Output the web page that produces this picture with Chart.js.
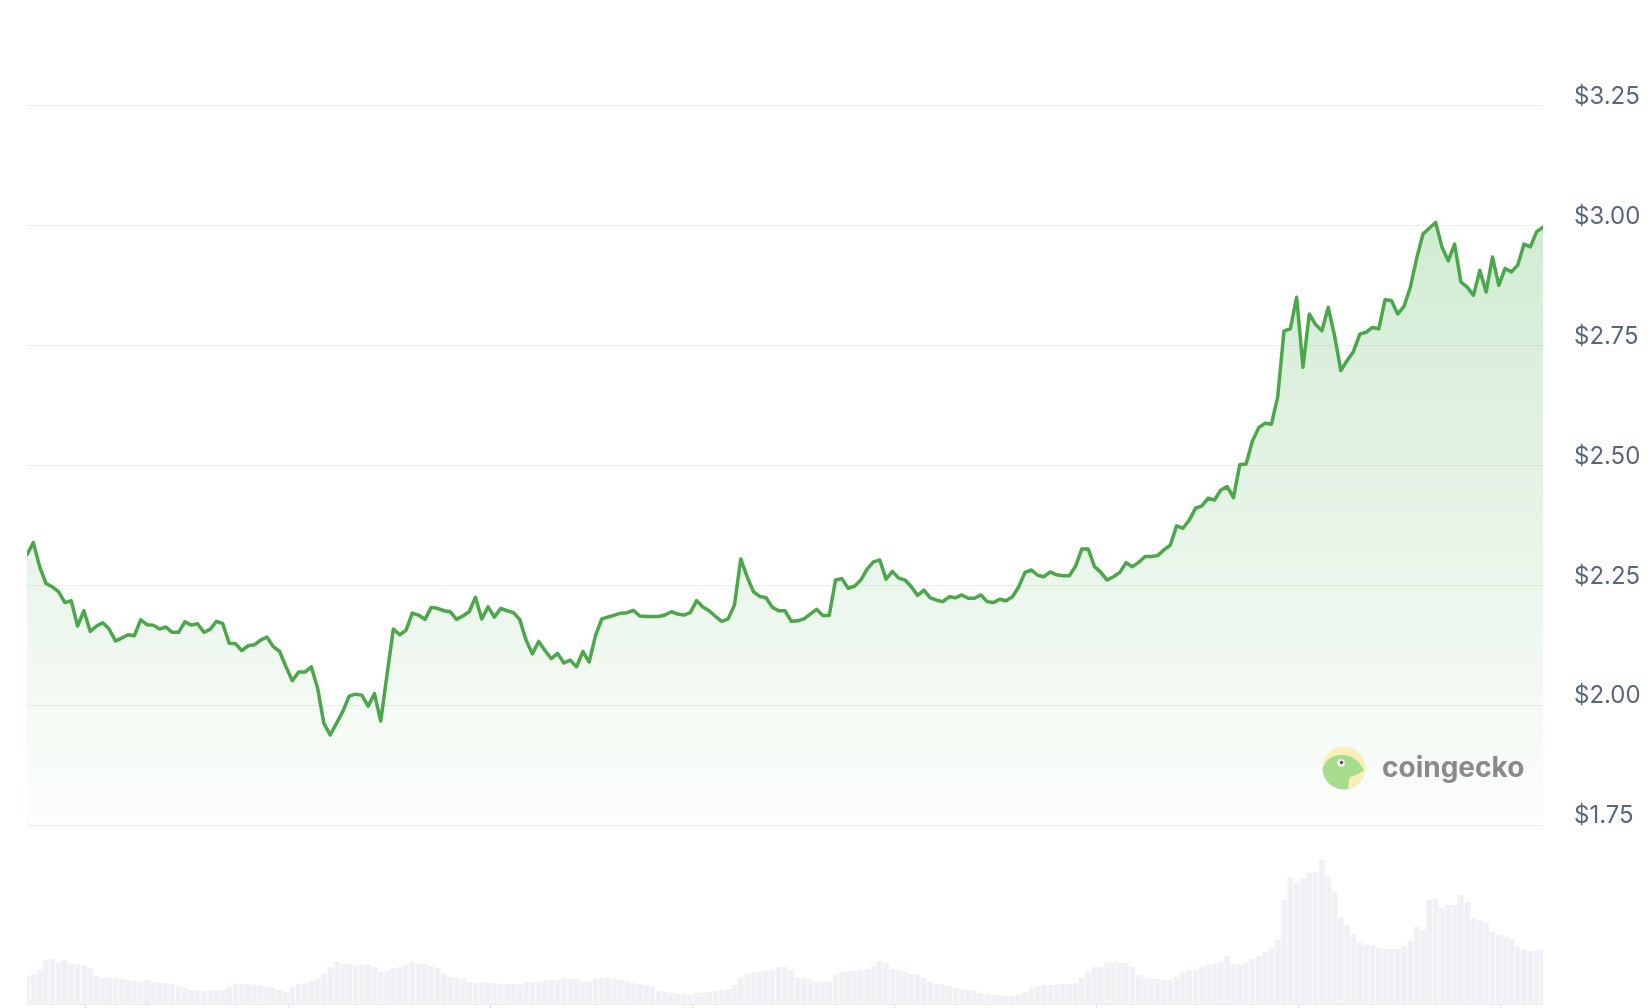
<!DOCTYPE html>
<html>
<head>
<meta charset="utf-8">
<style>
  html, body { margin: 0; padding: 0; background: #fff; }
  #wrap { width: 1650px; height: 1008px; position: relative; }
</style>
</head>
<body>
<div id="wrap"><canvas id="priceChart"></canvas></div>
<script src="https://cdn.jsdelivr.net/npm/chart.js"></script>
<script>
// 30 days of 3-hourly samples.
const prices = [
  2.314, 2.339, 2.289, 2.254, 2.247, 2.237, 2.214, 2.218, 2.165, 2.197,
  2.154, 2.165, 2.172, 2.159, 2.134, 2.140, 2.147, 2.145, 2.178, 2.168,
  2.167, 2.159, 2.163, 2.152, 2.152, 2.174, 2.167, 2.170, 2.152, 2.158,
  2.175, 2.170, 2.129, 2.128, 2.114, 2.124, 2.126, 2.136, 2.142, 2.122,
  2.112, 2.080, 2.051, 2.069, 2.069, 2.080, 2.036, 1.962, 1.938, 1.962,
  1.987, 2.019, 2.023, 2.021, 1.998, 2.024, 1.967, 2.064, 2.159, 2.147,
  2.156, 2.192, 2.188, 2.179, 2.204, 2.202, 2.197, 2.195, 2.179, 2.186,
  2.195, 2.225, 2.180, 2.205, 2.184, 2.202, 2.197, 2.193, 2.179, 2.136,
  2.107, 2.133, 2.114, 2.097, 2.108, 2.088, 2.094, 2.080, 2.112, 2.090,
  2.145, 2.180, 2.184, 2.188, 2.192, 2.193, 2.198, 2.186, 2.185, 2.185,
  2.185, 2.188, 2.195, 2.190, 2.188, 2.193, 2.218, 2.205, 2.197, 2.185,
  2.175, 2.180, 2.209, 2.305, 2.268, 2.237, 2.227, 2.224, 2.204, 2.197,
  2.197, 2.175, 2.176, 2.180, 2.190, 2.200, 2.187, 2.187, 2.261, 2.264,
  2.244, 2.248, 2.261, 2.284, 2.299, 2.303, 2.263, 2.279, 2.265, 2.261,
  2.247, 2.229, 2.240, 2.224, 2.219, 2.216, 2.226, 2.224, 2.230, 2.223,
  2.223, 2.230, 2.216, 2.214, 2.221, 2.218, 2.226, 2.247, 2.277, 2.282,
  2.271, 2.268, 2.278, 2.272, 2.270, 2.270, 2.290, 2.326, 2.326, 2.289,
  2.277, 2.261, 2.268, 2.277, 2.297, 2.289, 2.298, 2.310, 2.310, 2.312,
  2.324, 2.334, 2.374, 2.369, 2.386, 2.411, 2.416, 2.432, 2.428, 2.449,
  2.456, 2.433, 2.502, 2.503, 2.551, 2.579, 2.588, 2.586, 2.643, 2.781,
  2.785, 2.851, 2.705, 2.816, 2.794, 2.781, 2.830, 2.771, 2.698, 2.719,
  2.738, 2.774, 2.778, 2.788, 2.785, 2.846, 2.844, 2.816, 2.832, 2.872,
  2.932, 2.983, 2.995, 3.007, 2.956, 2.927, 2.962, 2.883, 2.872, 2.855,
  2.907, 2.862, 2.935, 2.876, 2.911, 2.904, 2.918, 2.962, 2.956, 2.988, 2.997
];

// Trading volume (millions USD), same samples.
const volumes = [
  27, 30, 34, 44, 45, 41, 44, 40, 40, 39,
  36, 28, 26, 26, 25, 25, 24, 23, 23, 24,
  22, 21, 21, 20, 18, 16, 14, 13, 13, 13,
  14, 14, 17, 20, 20, 20, 19, 18, 17, 16,
  14, 12, 17, 20, 21, 23, 25, 30, 37, 42,
  40, 40, 39, 39, 40, 37, 32, 33, 36, 37,
  39, 41, 40, 40, 38, 36, 31, 27, 26, 25,
  22, 21, 22, 21, 21, 20, 20, 20, 19, 22,
  22, 22, 23, 24, 24, 25, 25, 25, 22, 23,
  25, 26, 26, 25, 24, 23, 21, 20, 19, 17,
  13, 12, 11, 10, 9, 9, 11, 11, 12, 13,
  14, 15, 19, 26, 30, 31, 32, 33, 34, 37,
  37, 34, 27, 26, 25, 23, 22, 23, 29, 32,
  33, 33, 34, 35, 38, 43, 41, 35, 34, 32,
  30, 29, 26, 22, 20, 19, 18, 16, 15, 14,
  13, 11, 10, 9, 9, 8, 8, 10, 12, 15,
  18, 19, 19, 19, 20, 20, 21, 26, 32, 37,
  37, 41, 41, 41, 41, 37, 29, 26, 25, 25,
  24, 24, 27, 31, 34, 34, 37, 39, 40, 42,
  48, 40, 39, 41, 45, 48, 52, 56, 64, 104,
  127, 121, 126, 131, 132, 144, 127, 112, 87, 79,
  70, 62, 59, 59, 56, 55, 55, 55, 58, 63,
  77, 74, 104, 105, 96, 99, 99, 109, 102, 86,
  83, 81, 72, 69, 67, 65, 57, 55, 53, 53, 55
];

const stepHours = 3;
const hours = prices.map((_, i) => i * stepHours);
const xTickHours = [28, 124, 220, 316, 412, 508, 604, 700];
const priceTicks = [1.75, 2.00, 2.25, 2.50, 2.75, 3.00, 3.25];

Chart.defaults.font.family = "Inter, 'Noto Sans', sans-serif";

// Coingecko watermark in the lower right of the price area.
const watermark = {
  id: 'watermark',
  afterDatasetsDraw(chart) {
    const ctx = chart.ctx;
    const cx = chart.chartArea.right - 199;
    const cy = chart.scales.y.getPixelForValue(1.75) - 57;
    ctx.save();
    ctx.beginPath();
    ctx.arc(cx, cy, 21.5, 0, Math.PI * 2);
    ctx.fillStyle = '#f8efbb';
    ctx.fill();
    ctx.clip();
    // gecko head
    ctx.beginPath();
    ctx.moveTo(cx - 24, cy + 30);
    ctx.lineTo(cx - 22, cy + 2);
    ctx.quadraticCurveTo(cx - 18, cy - 12, cx - 4, cy - 13);
    ctx.bezierCurveTo(cx + 8, cy - 14, cx + 16, cy - 6, cx + 20, cy + 2);
    ctx.quadraticCurveTo(cx + 12, cy + 8, cx + 6, cy + 9);
    ctx.quadraticCurveTo(cx + 3, cy + 16, cx + 6, cy + 30);
    ctx.closePath();
    ctx.fillStyle = '#a8dc8d';
    ctx.fill();
    ctx.restore();
    // eye
    ctx.save();
    ctx.beginPath();
    ctx.arc(cx - 3, cy - 5, 3.8, 0, Math.PI * 2);
    ctx.fillStyle = '#ffffff';
    ctx.fill();
    ctx.beginPath();
    ctx.arc(cx - 2.5, cy - 5.5, 1.8, 0, Math.PI * 2);
    ctx.fillStyle = '#5b5b5b';
    ctx.fill();
    // wordmark
    ctx.font = "700 28px Inter, 'Noto Sans', sans-serif";
    ctx.fillStyle = '#8a8a8a';
    ctx.textBaseline = 'middle';
    ctx.textAlign = 'left';
    ctx.fillText('coingecko', cx + 38, cy + 1);
    ctx.restore();
  }
};

function fillGradient(context) {
  const chart = context.chart;
  const area = chart.chartArea;
  if (!area) return 'rgba(76,175,80,0.1)';
  const bottom = chart.scales.y.getPixelForValue(1.75);
  const g = chart.ctx.createLinearGradient(0, area.top, 0, bottom);
  g.addColorStop(0, 'rgba(76,175,80,0.34)');
  g.addColorStop(1, 'rgba(76,175,80,0.015)');
  return g;
}

const priceData = prices.map((p, i) => ({ x: hours[i], y: p }));
const volumeData = volumes.map((v, i) => ({ x: hours[i], y: v }));

const config = {
  type: 'line',
  data: {
    datasets: [
      {
        label: 'Price',
        data: priceData,
        yAxisID: 'y',
        borderColor: '#4aa84a',
        borderWidth: 3.5,
        borderJoinStyle: 'round',
        borderCapStyle: 'round',
        pointRadius: 0,
        tension: 0,
        fill: { value: 1.75 },
        backgroundColor: fillGradient,
        order: 1
      },
      {
        type: 'bar',
        label: 'Volume',
        data: volumeData,
        yAxisID: 'yv',
        backgroundColor: '#f0f1f5',
        categoryPercentage: 1,
        barPercentage: 0.9,
        order: 2
      }
    ]
  },
  options: {
    responsive: true,
    maintainAspectRatio: false,
    animation: false,
    layout: { padding: { left: 27, right: 0, top: 0, bottom: 0 } },
    plugins: {
      legend: { display: false },
      tooltip: { enabled: false }
    },
    scales: {
      x: {
        type: 'linear',
        min: 0,
        max: hours[hours.length - 1],
        offset: false,
        afterBuildTicks: (axis) => {
          axis.ticks = xTickHours.map((h) => ({ value: h }));
        },
        ticks: { display: false },
        grid: {
          offset: false,
          drawOnChartArea: false,
          drawTicks: true,
          tickLength: 4,
          color: '#dcdfe5'
        },
        border: { display: true, color: '#eceef2', width: 1 }
      },
      y: {
        type: 'linear',
        position: 'right',
        min: 1.3766,
        max: 3.4711,
        afterBuildTicks: (axis) => {
          axis.ticks = priceTicks.map((v) => ({ value: v }));
        },
        afterFit: (axis) => {
          axis.width = 107;
          axis.paddingTop = 0;
          axis.paddingBottom = 0;
        },
        ticks: {
          padding: 31,
          labelOffset: -9,
          color: '#58667e',
          font: { size: 24 },
          callback: (v) => '$' + Number(v).toFixed(2)
        },
        grid: { drawTicks: false, color: '#eceef1', lineWidth: 1 },
        border: { display: false }
      },
      yv: {
        display: false,
        min: 0,
        max: 1004
      }
    }
  },
  plugins: [watermark]
};

const priceChart = new Chart(document.getElementById('priceChart'), config);
</script>
</body>
</html>
